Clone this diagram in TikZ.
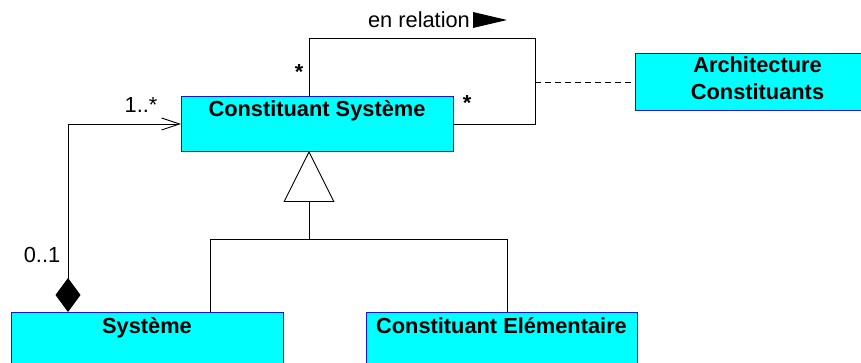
\documentclass[tikz,border=0pt]{standalone}
\usepackage{fontspec}
\setmainfont{Liberation Sans}
\usetikzlibrary{arrows.meta}
\definecolor{clsfill}{RGB}{0,255,255}
\definecolor{clsdraw}{RGB}{20,20,230}
\begin{document}
\begin{tikzpicture}[x=1pt,y=-1pt,
  font=\fontsize{21.8}{27}\selectfont,
  cls/.style={draw=clsdraw, fill=clsfill, line width=0.9pt, inner sep=0pt},
  ttl/.style={anchor=base, font=\fontsize{21.8}{27}\selectfont\bfseries, align=center},
  conn/.style={draw=black, line width=0.9pt},
  lbl/.style={anchor=base}]
\useasboundingbox (0,0) rectangle (861,363);
\clip (0,0) rectangle (861,363);
% class boxes
\node[cls, minimum width=272pt, minimum height=55pt] (cs) at (317,123.5) {};
\node[ttl] (cst) at (317,117) {Constituant Système};
\node[cls, minimum width=226pt, minimum height=57pt] (ac) at (748,81.5) {};
\node[ttl] (act1) at (757.5,73) {Architecture};
\node[ttl] (act2) at (757.5,100) {Constituants};
\node[cls, minimum width=272pt, minimum height=60pt] (sy) at (147,342) {};
\node[ttl] (syt) at (147,333) {Système};
\node[cls, minimum width=271pt, minimum height=60pt] (ce) at (501.5,342) {};
\node[ttl] (cet) at (501.5,333) {Constituant Elémentaire};
% named points
\coordinate (l1) at (309,96);
\coordinate (l2) at (309,38);
\coordinate (l3) at (535,38);
\coordinate (l4) at (535,124);
\coordinate (l5) at (453,124);
\coordinate (dm) at (535,82);
\coordinate (ag1) at (68,312);
\coordinate (ag2) at (68,124);
\coordinate (ag3) at (181,124);
\coordinate (g0) at (309,151);
\coordinate (g1) at (309,239);
\coordinate (g2) at (210,239);
\coordinate (g3) at (507,239);
\coordinate (gs) at (210,312);
\coordinate (gc) at (507,312);
% self association
\draw[conn] (l1) -- (l2) -- (l3) -- (l4) -- (l5);
\draw[conn, dashed, dash pattern=on 6pt off 4pt] (dm) -- (ac.west |- dm);
% aggregation
\draw[conn, {Diamond[length=34pt,width=25pt,fill=black]}-{Straight Barb[length=18pt,width=12pt,line width=0.9pt]}] (ag1) -- (ag2) -- (ag3);
% generalisation
\draw[conn] (gs) -- (g2) -- (g3) -- (gc);
\draw[conn, -{Triangle[open,length=51pt,width=51pt,fill=white]}] (g1) -- (g0);
% labels
\node[lbl] (enrel) at (419,28) {en relation};
\fill[black] (473,12) -- (507,20) -- (473,28) -- cycle;
\node[lbl, font=\fontsize{21.8}{27}\selectfont\bfseries] (st1) at (299,80) {*};
\node[lbl, font=\fontsize{21.8}{27}\selectfont\bfseries] (st2) at (467,111) {*};
\node[lbl] (m1) at (141,113) {1..*};
\node[lbl] (m2) at (42,262) {0..1};
\end{tikzpicture}
\end{document}
